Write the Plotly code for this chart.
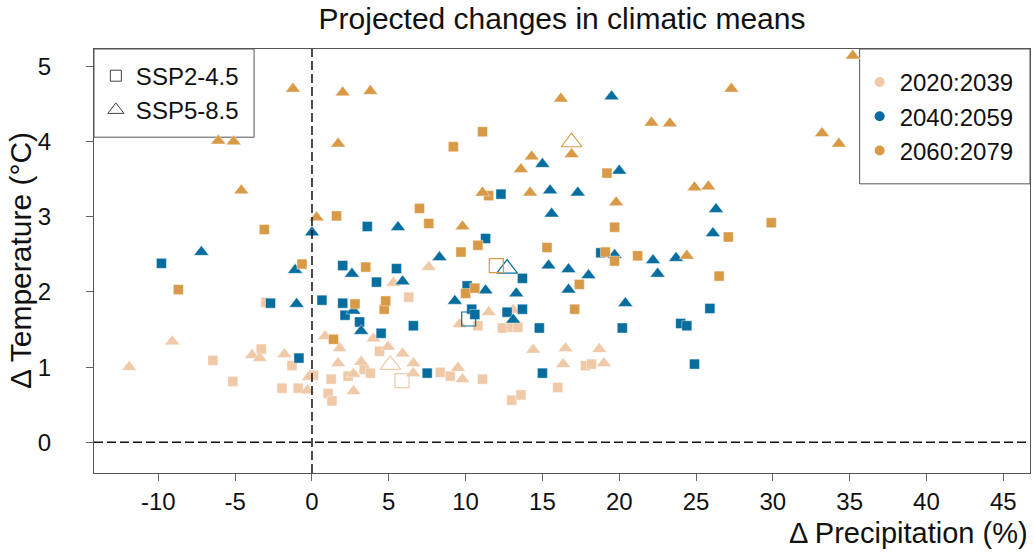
import plotly.graph_objects as go

# ---------------- data (Δ precipitation %, Δ temperature °C) ----------------
# 2020:2039
p1_sq_x = [-6.45, -5.15, -3.3, -3.0, -1.95, -1.3, -0.9, 0.1, 1.05, 1.3, 1.25, 2.35, 3.4, 3.8, 4.4,
           6.3, 8.35, 9.0, 10.8, 11.1, 12.4, 13.0, 13.4, 13.0, 13.6, 16.0, 17.8, 18.2]
p1_sq_y = [1.09, 0.81, 1.24, 1.86, 0.72, 1.02, 0.72, 0.89, 0.65, 0.55, 0.84, 0.88, 0.97, 0.92, 1.21,
           1.93, 0.93, 0.88, 1.55, 0.84, 1.52, 1.53, 1.53, 0.56, 0.63, 0.73, 1.02, 1.04]
p1_tr_x = [-11.9, -9.1, -3.9, -3.4, -1.8, -0.2, -0.3, 0.85, 1.8, 1.7, 2.7, 2.7, 3.2, 4.0, 4.95,
           5.3, 5.9, 6.6, 6.6, 7.6, 9.5, 9.6, 9.8, 11.5, 13.1, 14.4, 16.35, 16.5, 18.7, 19.0]
p1_tr_y = [1.00, 1.34, 1.16, 1.12, 1.17, 0.87, 0.69, 1.41, 1.25, 1.05, 0.91, 0.68, 1.07, 1.38, 1.27,
           2.12, 1.18, 1.05, 0.92, 2.33, 0.99, 1.57, 0.84, 1.73, 1.76, 1.23, 1.04, 1.25, 1.24, 1.05]

# 2040:2059
p2_sq_x = [-9.8, -2.7, -0.85, 0.65, 2.0, 2.0, 2.15, 3.1, 3.6, 4.2, 4.5, 5.5, 6.6, 7.5, 10.1,
           10.4, 10.6, 11.3, 12.3, 12.7, 13.7, 13.7, 14.8, 15.0, 18.8, 20.2, 24.0, 24.4, 24.9, 25.9]
p2_sq_y = [2.38, 1.85, 1.12, 1.89, 2.35, 1.85, 1.69, 1.60, 2.87, 2.13, 1.45, 2.31, 1.55, 0.92, 2.08,
           1.77, 1.70, 2.71, 3.30, 1.73, 2.18, 1.77, 1.52, 0.92, 2.52, 1.52, 1.58, 1.55, 1.04, 1.78]
p2_tr_x = [-7.2, -1.1, -1.0, 0.0, 2.6, 2.7, 3.2, 5.6, 5.9, 8.3, 9.3, 11.3, 13.1, 13.3, 15.0, 15.4,
           15.5, 15.6, 16.7, 16.7, 17.3, 18.0, 19.5, 19.7, 20.0, 20.4, 22.2, 22.5, 23.7, 26.1, 26.3]
p2_tr_y = [2.53, 2.29, 1.84, 2.79, 2.24, 1.75, 1.48, 2.86, 2.14, 2.46, 1.88, 2.02, 1.63, 1.98, 3.70, 2.35,
           3.35, 3.04, 2.30, 2.03, 3.32, 2.22, 4.60, 2.49, 3.61, 1.85, 2.42, 2.24, 2.45, 2.78, 3.10]

# 2060:2079
p3_sq_x = [-8.7, -3.1, -0.65, 1.4, 1.6, 2.8, 3.5, 4.7, 4.8, 7.0, 7.6, 9.2, 9.7, 10.0, 10.6,
           10.8, 11.1, 11.5, 15.3, 17.1, 17.4, 19.1, 19.2, 19.7, 19.7, 21.2, 26.5, 27.1, 29.9]
p3_sq_y = [2.03, 2.83, 2.37, 1.37, 3.01, 1.84, 2.33, 1.77, 1.88, 3.11, 2.91, 3.93, 2.53, 1.98, 2.05,
           2.62, 4.13, 3.28, 2.59, 1.77, 2.10, 2.53, 3.58, 2.86, 2.41, 2.48, 2.21, 2.73, 2.92]
p3_tr_x = [-6.1, -5.1, -4.6, -1.24, 0.3, 1.7, 2.0, 3.8, 9.8, 11.1, 13.6, 14.2, 14.3, 16.2, 16.9,
           19.8, 22.1, 23.3, 24.4, 24.9, 25.8, 27.3, 33.2, 34.3, 35.2]
p3_tr_y = [4.01, 4.00, 3.35, 4.70, 2.99, 3.97, 4.65, 4.67, 2.87, 3.32, 3.63, 3.32, 3.80, 4.57, 3.83,
           3.19, 4.25, 4.24, 2.48, 3.39, 3.40, 4.70, 4.11, 3.97, 5.14]

# ensemble means (open symbols), one per period
mean_sq_x = [5.86, 10.2, 12.0]
mean_sq_y = [0.82, 1.64, 2.35]
mean_tr_x = [5.1, 12.7, 16.9]
mean_tr_y = [1.03, 2.31, 3.99]

periods = ["2020:2039", "2040:2059", "2060:2079"]
scenarios = ["SSP2-4.5", "SSP5-8.5"]
x_ticks = [-10, -5, 0, 5, 10, 15, 20, 25, 30, 35, 40, 45]
y_ticks = [0, 1, 2, 3, 4, 5]

# ---------------- styling ----------------
colors = ["#EFC9A8", "#066E9F", "#D99A47"]
FONT = "Liberation Sans, Arial, sans-serif"

fig = go.Figure()

groups = [
    (p1_sq_x, p1_sq_y, p1_tr_x, p1_tr_y),
    (p2_sq_x, p2_sq_y, p2_tr_x, p2_tr_y),
    (p3_sq_x, p3_sq_y, p3_tr_x, p3_tr_y),
]
for i, (sx, sy, tx, ty) in enumerate(groups):
    for xs, ys, sym, ms in ((sx, sy, "square", 10), (tx, ty, "triangle-up", 13)):
        fig.add_trace(go.Scatter(
            x=xs, y=ys, mode="markers", showlegend=False, hoverinfo="x+y",
            marker=dict(symbol=sym, size=ms, color=colors[i],
                        line=dict(width=0.6, color="rgba(255,255,255,0.7)")),
        ))

# open means
for i in range(3):
    fig.add_trace(go.Scatter(
        x=[mean_sq_x[i]], y=[mean_sq_y[i]], mode="markers", showlegend=False,
        marker=dict(symbol="square-open", size=14, color=colors[i], line=dict(width=1.2)),
    ))
    fig.add_trace(go.Scatter(
        x=[mean_tr_x[i]], y=[mean_tr_y[i]], mode="markers", showlegend=False,
        marker=dict(symbol="triangle-up-open", size=18, color=colors[i], line=dict(width=1.2)),
    ))

# legend entries: periods (right)
for i, p in enumerate(periods):
    fig.add_trace(go.Scatter(
        x=[None], y=[None], mode="markers", name=p, legend="legend",
        marker=dict(symbol="circle", size=10, color=colors[i]),
    ))
# legend entries: scenarios (left)
for s, sym in zip(scenarios, ["square-open", "triangle-up-open"]):
    fig.add_trace(go.Scatter(
        x=[None], y=[None], mode="markers", name=s, legend="legend2",
        marker=dict(symbol=sym, size=11 if sym.startswith("square") else 14,
                    color="#444444", line=dict(width=1)),
    ))

# reference dashed lines at 0
fig.add_shape(type="line", xref="x", yref="paper", x0=0, x1=0, y0=0, y1=1,
              line=dict(color="#111111", width=1.5, dash="9px,4px"), layer="above")
fig.add_shape(type="line", xref="paper", yref="y", x0=0, x1=1, y0=0, y1=0,
              line=dict(color="#111111", width=1.5, dash="9px,4px"), layer="above")

# legend boxes
fig.add_shape(type="rect", xref="paper", yref="paper", x0=0, x1=0.171, y0=0.792, y1=1,
              line=dict(color="#555555", width=1), fillcolor="white", layer="below")
fig.add_shape(type="rect", xref="paper", yref="paper", x0=0.818, x1=1, y0=0.682, y1=1,
              line=dict(color="#555555", width=1), fillcolor="white", layer="below")

axis_common = dict(
    showgrid=False, zeroline=False, showline=True, mirror=True,
    linecolor="#555555", linewidth=1.2, ticks="outside", ticklen=7,
    tickcolor="#666666", tickwidth=1.2,
    tickfont=dict(family=FONT, size=24, color="#111111"),
)

fig.update_layout(
    width=1034, height=554,
    margin=dict(l=94, r=4, t=49, b=81),
    paper_bgcolor="white", plot_bgcolor="white",
    font=dict(family=FONT, color="#111111"),
    title=dict(text="Projected changes in climatic means", x=0.5, xref="paper",
               y=1 - 18 / 554, yref="container", yanchor="middle", xanchor="center",
               font=dict(family=FONT, size=30, color="#111111")),
    xaxis=dict(range=[-14.19, 46.74], tickvals=x_ticks,
               ticktext=[str(v) for v in x_ticks], **axis_common),
    yaxis=dict(range=[-0.408, 5.23], tickvals=y_ticks,
               ticktext=[str(v) for v in y_ticks], ticklabelstandoff=30, **axis_common),
    legend=dict(x=0.818, xanchor="left", y=0.841, yanchor="middle",
                bgcolor="rgba(0,0,0,0)", borderwidth=0,
                font=dict(family=FONT, size=24, color="#111111")),
    legend2=dict(x=0.002, xanchor="left", y=0.896, yanchor="middle",
                 bgcolor="rgba(0,0,0,0)", borderwidth=0,
                 font=dict(family=FONT, size=24, color="#111111")),
    annotations=[
        dict(text="Δ Temperature (°C)", xref="paper", yref="paper", x=0, y=0.5,
             xanchor="center", yanchor="middle", xshift=-74, textangle=-90, showarrow=False,
             font=dict(family=FONT, size=30, color="#111111")),
        dict(text="Δ Precipitation (%)", xref="paper", yref="paper", x=1, y=0,
             xanchor="right", yanchor="middle", yshift=-60, showarrow=False,
             font=dict(family=FONT, size=29, color="#111111")),
    ],
)

fig.write_html("out.html")
